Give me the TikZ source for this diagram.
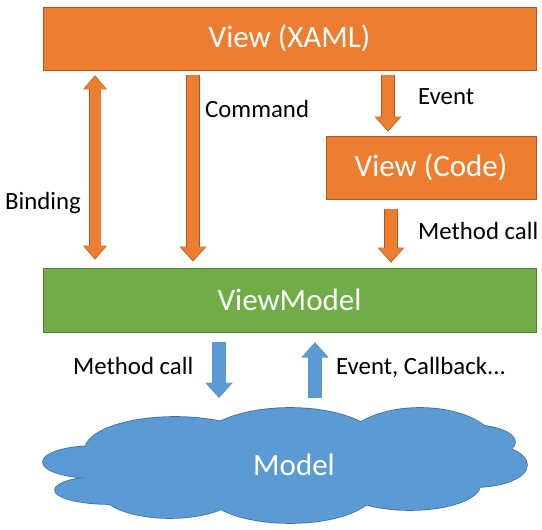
\documentclass[tikz,border=0pt]{standalone}
\usepackage{fontspec}
\setmainfont{Carlito}
\usetikzlibrary{shapes,arrows.meta,positioning}
\definecolor{vorange}{HTML}{ED7D31}
\definecolor{vorangeline}{HTML}{AE5A21}
\definecolor{vgreen}{HTML}{70AD47}
\definecolor{vgreenline}{HTML}{507E32}
\definecolor{vblue}{HTML}{5B9BD5}
\definecolor{vblueline}{HTML}{41719C}
\def \bigsize {\fontsize{31}{36}\selectfont}
\def \lblsize {\fontsize{24.8}{29}\selectfont}
\tikzstyle{viewbox} = [draw=vorangeline,fill=vorange,line width=0.8pt,minimum height=63pt,inner sep=0,text=white,font=\bigsize]
\tikzstyle{vmbox} = [viewbox,draw=vgreenline,fill=vgreen,minimum height=64pt]
\tikzstyle{lbl} = [anchor=base west,inner sep=0,font=\lblsize]
\tikzstyle{puffline} = [draw=vblueline,line width=1.6pt]
\tikzstyle{oarrow} = [draw=vorangeline,line width=13.4pt,-{Triangle[width=27pt,length=15pt,line width=0pt]},
  postaction={draw=vorange,line width=12pt,shorten >=1.2pt,-{Triangle[width=24.4pt,length=13.2pt,line width=0pt]}}]
\tikzstyle{darrow} = [draw=vorangeline,line width=12.4pt,{Triangle[width=24pt,length=14pt,line width=0pt]}-{Triangle[width=24pt,length=14pt,line width=0pt]},
  postaction={draw=vorange,line width=11pt,shorten >=1.2pt,shorten <=1.2pt,{Triangle[width=21.4pt,length=12.2pt,line width=0pt]}-{Triangle[width=21.4pt,length=12.2pt,line width=0pt]}}]
\tikzstyle{barrow} = [oarrow,draw=vblueline,postaction={draw=vblue}]

\begin{document}
\begin{tikzpicture}[x=1pt,y=1pt]
  \useasboundingbox (0,0) rectangle (542,530);
  % boxes
  \node[viewbox,minimum width=493pt] (xaml) at (289.5,491.5) {View (XAML)};
  \node[viewbox,minimum width=210pt] (code) at (431,362.5) {View (Code)};
  \node[vmbox,minimum width=493pt] (vm) at (289.5,230) {ViewModel};
  % cloud: outlines first, then fills on top
  \foreach \cx/\cy/\rx/\ry in {95/68/52/16,110/40/55/14,175/80/90/33,290/85/90/37,420/85/75/37,
                              470/88/45/17,475/65/52/22,410/45/70/25,290/40/85/33,170/40/70/28}
    \draw[puffline] (\cx,\cy) ellipse (\rx pt and \ry pt);
  \foreach \cx/\cy/\rx/\ry in {95/68/52/16,110/40/55/14,175/80/90/33,290/85/90/37,420/85/75/37,
                              470/88/45/17,475/65/52/22,410/45/70/25,290/40/85/33,170/40/70/28}
    \fill[vblue] (\cx,\cy) ellipse (\rx pt and \ry pt);
  \node[ellipse,fill=vblue,minimum width=360pt,minimum height=80pt,inner sep=0,text=white,font=\bigsize] (model) at (294,65) {Model};
  % arrows
  \draw[darrow] ([xshift=-194.5,yshift=-5]xaml.south) -- ([xshift=-194.5,yshift=8]vm.north);
  \draw[oarrow] ([xshift=-96.5,yshift=-5]xaml.south) -- ([xshift=-96.5,yshift=6]vm.north);
  \draw[oarrow] ([xshift=98.5,yshift=-5]xaml.south) -- ([xshift=-43,yshift=4]code.north);
  \draw[oarrow] ([xshift=-40,yshift=-10]code.south) -- ([xshift=101.5,yshift=5]vm.north);
  \draw[barrow] ([xshift=-70.5,yshift=-10]vm.south) -- ([xshift=-75,yshift=27]model.north);
  \draw[barrow] ([xshift=21,yshift=27]model.north) -- ([xshift=25.5,yshift=-10]vm.south);
  % labels
  \node[lbl] (lcmd) at (205,412) {Command};
  \node[lbl] (levt) at (418,425) {Event};
  \node[lbl] (lbnd) at (5,320) {Binding};
  \node[lbl] (lmc) at (418,290) {Method call};
  \node[lbl] (lmc2) at (73,155) {Method call};
  \node[lbl] (lcb) at (336,155) {Event, Callback...};
\end{tikzpicture}
\end{document}
